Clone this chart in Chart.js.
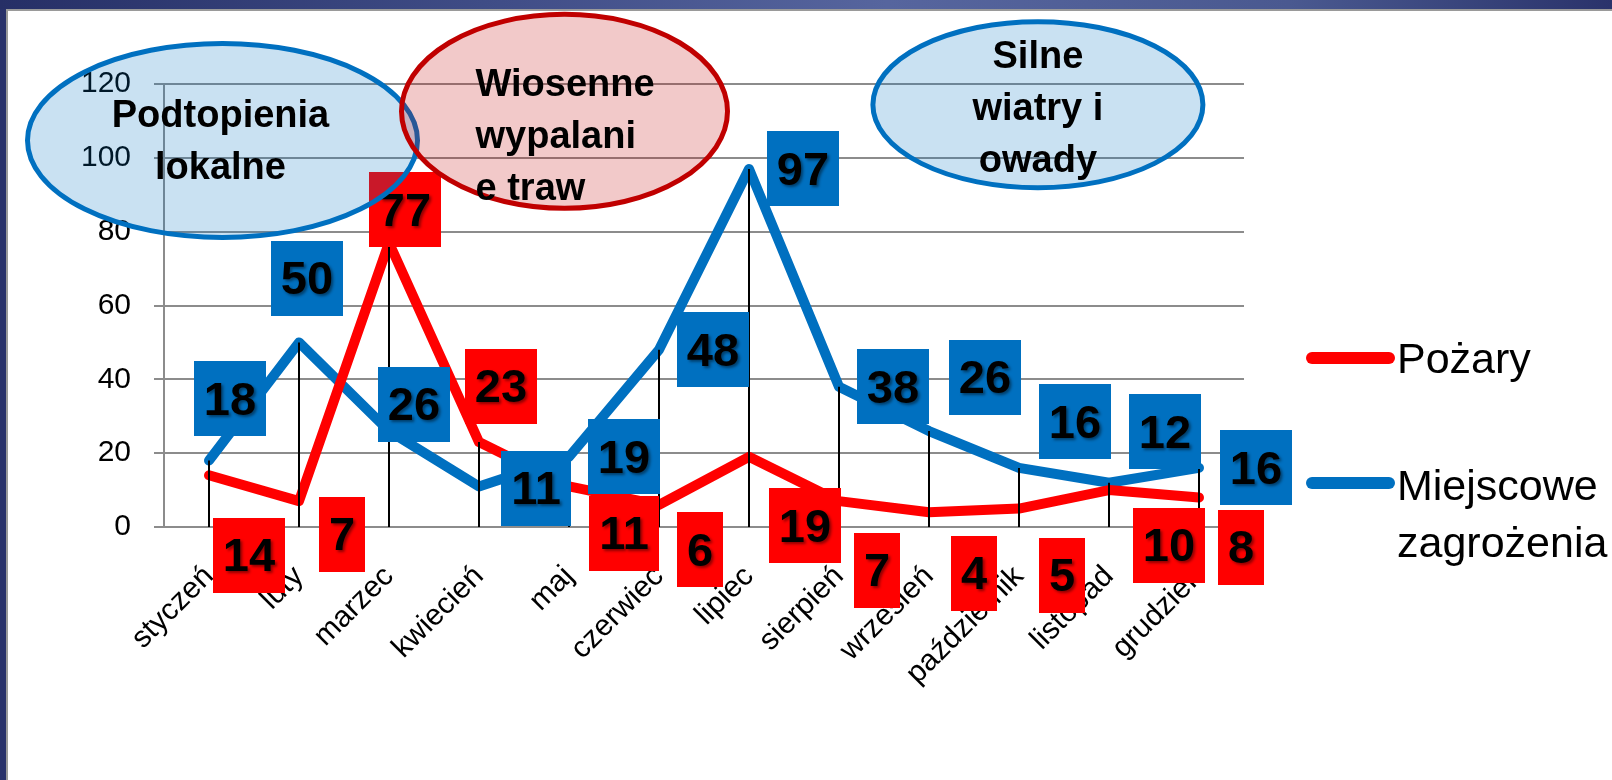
<!DOCTYPE html>
<html>
<head>
<meta charset="utf-8">
<script src="https://cdn.jsdelivr.net/npm/chart.js@4.4.1/dist/chart.umd.min.js"></script>
<style>
  html, body { margin: 0; padding: 0; }
  body { width: 1612px; height: 780px; overflow: hidden; position: relative; background: #28316a; }
  #topbar { position: absolute; left: 0; top: 0; width: 1612px; height: 9px;
    background: linear-gradient(to right, #262f66 0%, #3f4c86 30%, #56659e 55%, #4a5990 80%, #2a336b 100%); }
  #sheet { position: absolute; left: 6px; top: 9px; right: 0; bottom: 0; background: #fff;
    border-top: 2px solid #9a9a9a; border-left: 2px solid #9a9a9a; }
  #chart { position: absolute; left: 0; top: 0; }
</style>
</head>
<body>
<div id="topbar"></div>
<div id="sheet"></div>
<canvas id="chart" width="1612" height="780"></canvas>
<script>
// dane
const months = ['styczeń', 'luty', 'marzec', 'kwiecień', 'maj', 'czerwiec', 'lipiec', 'sierpień', 'wrzesień', 'październik', 'listopad', 'grudzień'];
const pozary = [14, 7, 77, 23, 11, 6, 19, 7, 4, 5, 10, 8];
const miejscowe = [18, 50, 26, 11, 19, 48, 97, 38, 26, 16, 12, 16];
const yMin = 0, yMax = 120, yStep = 20;

// przesuniecia etykiet (px od punktu)
const pozaryLabelDx = [40, 43, 16, 22, 55, 41, 56, 38, 45, 43, 60, 42];
const pozaryLabelDy = [80, 33, -33, -56, 47, 45, 69, 69, 61, 67, 55, 50];
const miejscoweLabelDx = [21, 8, 25, 57, 55, 54, 54, 54, 56, 56, 56, 57];
const miejscoweLabelDy = [-62, -64, -27, 2, 0, 0, 0, 0, -54, -46, -51, 0];

// dymki: srodek jako (indeks kategorii, wartosc)
const bubbles = [
  { lines: ['Podtopienia', 'lokalne'], at: 0.15, val: 104.7, rx: 195, ry: 97, color: '#0070c0', fill: 'rgba(0,112,192,0.21)', align: 'center', dx: -2, dy: -13 },
  { lines: ['Wiosenne', 'wypalani', 'e traw'], at: 3.95, val: 112.6, rx: 163, ry: 97, color: '#c00000', fill: 'rgba(192,0,0,0.21)', align: 'left', dx: -89, dy: -15 },
  { lines: ['Silne', 'wiatry i', 'owady'], at: 9.21, val: 114.4, rx: 165, ry: 83, color: '#0070c0', fill: 'rgba(0,112,192,0.21)', align: 'center', dx: 0, dy: -37 }
];

const FONT = '"Liberation Sans", Arial, sans-serif';

const dropLines = {
  id: 'dropLines',
  afterDatasetsDraw(chart) {
    const { ctx, scales: { x, y } } = chart;
    ctx.save();
    ctx.strokeStyle = '#000';
    ctx.lineWidth = 2;
    months.forEach((m, i) => {
      const top = Math.max(pozary[i], miejscowe[i]);
      const px = x.getPixelForValue(i);
      ctx.beginPath();
      ctx.moveTo(px, y.getPixelForValue(0));
      ctx.lineTo(px, y.getPixelForValue(top));
      ctx.stroke();
    });
    ctx.restore();
  }
};

function drawBox(ctx, cx, cy, text, color) {
  ctx.font = 'bold 47px ' + FONT;
  const w = ctx.measureText(text).width + 20;
  const h = 75;
  ctx.fillStyle = color;
  ctx.fillRect(Math.round(cx - w / 2), Math.round(cy - h / 2), Math.round(w), h);
  ctx.save();
  ctx.shadowColor = 'rgba(0,0,0,0.45)';
  ctx.shadowBlur = 3;
  ctx.shadowOffsetX = 2;
  ctx.shadowOffsetY = 2;
  ctx.fillStyle = '#000';
  ctx.textAlign = 'center';
  ctx.textBaseline = 'middle';
  ctx.fillText(text, cx, cy + 3);
  ctx.restore();
}

const valueLabels = {
  id: 'valueLabels',
  afterDatasetsDraw(chart) {
    const ctx = chart.ctx;
    ctx.save();
    const red = chart.getDatasetMeta(0).data;
    red.forEach((p, i) => drawBox(ctx, p.x + pozaryLabelDx[i], p.y + pozaryLabelDy[i], String(pozary[i]), '#ff0000'));
    const blue = chart.getDatasetMeta(1).data;
    blue.forEach((p, i) => drawBox(ctx, p.x + miejscoweLabelDx[i], p.y + miejscoweLabelDy[i], String(miejscowe[i]), '#0070c0'));
    ctx.restore();
  }
};

const bubblesAndLegend = {
  id: 'bubblesAndLegend',
  afterDraw(chart) {
    const { ctx, chartArea, scales: { x, y } } = chart;
    ctx.save();
    bubbles.forEach(b => {
      const cx = x.getPixelForValue(b.at);
      const cy = y.getPixelForValue(b.val);
      ctx.beginPath();
      ctx.ellipse(cx, cy, b.rx, b.ry, 0, 0, Math.PI * 2);
      ctx.fillStyle = b.fill;
      ctx.fill();
      ctx.lineWidth = 5;
      ctx.strokeStyle = b.color;
      ctx.stroke();
    });
    ctx.fillStyle = '#000';
    ctx.font = 'bold 38px ' + FONT;
    ctx.textBaseline = 'alphabetic';
    bubbles.forEach(b => {
      const cx = x.getPixelForValue(b.at);
      const cy = y.getPixelForValue(b.val);
      ctx.textAlign = b.align;
      b.lines.forEach((t, k) => ctx.fillText(t, cx + b.dx, cy + b.dy + k * 52));
    });

    // legenda
    const lx = chartArea.right + 68;
    const items = chart.data.datasets.map(d => ({ label: d.label, color: d.borderColor }));
    const legendY = [358, 483];
    const textY = [373, 500];
    ctx.font = '43px ' + FONT;
    ctx.textAlign = 'left';
    ctx.lineCap = 'round';
    ctx.lineWidth = 12;
    items.forEach((it, i) => {
      ctx.strokeStyle = it.color;
      ctx.beginPath();
      ctx.moveTo(lx, legendY[i]);
      ctx.lineTo(lx + 77, legendY[i]);
      ctx.stroke();
      ctx.fillStyle = '#000';
      it.label.split(' ').forEach((w, k) => ctx.fillText(w, lx + 85, textY[i] + k * 57));
    });
    ctx.restore();
  }
};

new Chart(document.getElementById('chart'), {
  type: 'line',
  data: {
    labels: months,
    datasets: [
      { label: 'Pożary', data: pozary, borderColor: '#ff0000', backgroundColor: '#ff0000' },
      { label: 'Miejscowe zagrożenia', data: miejscowe, borderColor: '#0070c0', backgroundColor: '#0070c0' }
    ]
  },
  options: {
    responsive: false,
    devicePixelRatio: 1,
    animation: false,
    layout: { padding: { top: 84, right: 368, left: 0, bottom: 0 } },
    elements: {
      line: { borderWidth: 10, tension: 0, borderCapStyle: 'round', borderJoinStyle: 'round', fill: false },
      point: { radius: 0, hoverRadius: 0 }
    },
    plugins: { legend: { display: false }, tooltip: { enabled: false } },
    scales: {
      x: {
        offset: true,
        z: 1,
        grid: { display: false, drawTicks: false },
        border: { display: true, color: '#8c8c8c', width: 2 },
        ticks: { color: '#000', font: { family: FONT, size: 30 }, minRotation: 45, maxRotation: 45, autoSkip: false, padding: 32 },
        afterFit(scale) { scale.height = 253; }
      },
      y: {
        min: yMin,
        max: yMax,
        grid: { color: '#8c8c8c', lineWidth: 2, tickLength: 10 },
        border: { display: true, color: '#8c8c8c', width: 2 },
        ticks: { stepSize: yStep, color: '#000', font: { family: FONT, size: 30 }, padding: 23 },
        afterFit(scale) { scale.width = 164; }
      }
    }
  },
  plugins: [dropLines, valueLabels, bubblesAndLegend]
});
</script>
</body>
</html>
